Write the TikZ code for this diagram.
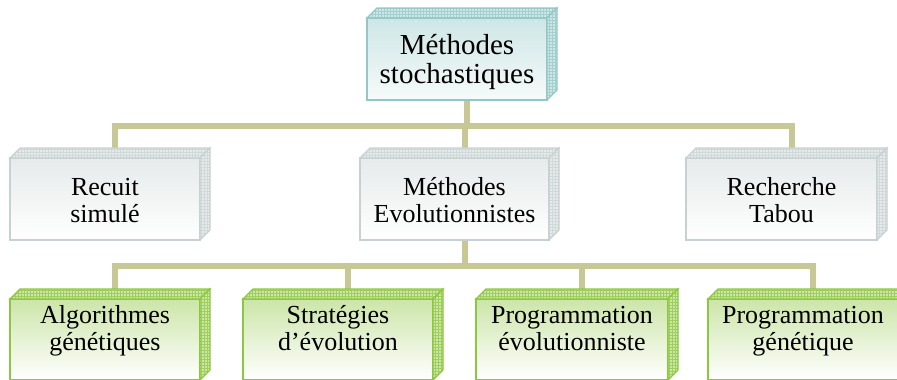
\documentclass[tikz,border=0pt]{standalone}
\usepackage{fontspec}
\setmainfont{Liberation Serif}
\usetikzlibrary{calc, backgrounds, patterns}
\definecolor{clink}{HTML}{C8C896}
\definecolor{cteal}{HTML}{93C7C7}
\definecolor{cgrey}{HTML}{C8D1D1}
\definecolor{cgreen}{HTML}{8DC63F}
\tikzset{
  every picture/.style={x=1pt, y=-1pt},
  box/.style={draw=#1, line width=1.6pt, outer sep=0pt, inner sep=0pt, align=center,
    anchor=north west, text height=37pt, text depth=45pt,
    font=\fontsize{26}{27}\selectfont},
  topbox/.style={box=cteal, top color=cteal!45, bottom color=cteal!8,
    text height=36pt, text depth=46pt, font=\fontsize{29}{29}\selectfont},
  midbox/.style={box=cgrey, top color=cgrey!45, bottom color=white},
  leafbox/.style={box=cgreen, top color=cgreen!45, bottom color=white,
    text height=24pt, text depth=57pt},
  face/.style={draw=#1, line width=1.2pt, preaction={fill=#1!45}, pattern=grid, pattern color=#1!85},
  link/.style={draw=clink, line width=6pt},
}
% top and side faces of a box
\newcommand{\boxfaces}[2]{%
  \path[face=#2] (#1.north west) -- ++(10,-10) -- ($(#1.north east)+(10,-10)$) -- (#1.north east) -- cycle;
  \path[face=#2] (#1.north east) -- ++(10,-10) -- ($(#1.south east)+(10,-10)$) -- (#1.south east) -- cycle;
}
\begin{document}
\begin{tikzpicture}
  \path[use as bounding box, clip] (0,0) rectangle (897,380);
  % root
  \node[topbox, text width=180pt] (t) at (367,18) {Méthodes\\stochastiques};
  % second row
  \node[midbox, text width=190pt] (rs) at (10,158) {Recuit\\simulé};
  \node[midbox, text width=189pt] (me) at (360,158) {Méthodes\\Evolutionnistes};
  \node[midbox, text width=191pt] (rt) at (686,158) {Recherche\\Tabou};
  % third row
  \node[leafbox, text width=190pt] (ag) at (10,299) {Algorithmes\\génétiques};
  \node[leafbox, text width=190pt] (se) at (243,299) {Stratégies\\d’évolution};
  \node[leafbox, text width=192pt] (pe) at (476,299) {Programmation\\évolutionniste};
  \node[leafbox, text width=190pt] (pg) at (708,299) {Programmation\\génétique};
  \boxfaces{t}{cteal}
  \foreach \n in {rs, me, rt} {\boxfaces{\n}{cgrey}}
  \foreach \n in {ag, se, pe, pg} {\boxfaces{\n}{cgreen}}
  % connectors
  \coordinate (b1) at ($(t.south)+(10,26)$);
  \coordinate (b2) at ($(me.south)+(10,26)$);
  \begin{scope}[on background layer]
    \foreach \n in {rs, me, rt}
      \draw[link] ($(\n.north)+(10,0)$) |- (b1) -- ($(t.south)+(10,0)$);
    \foreach \n in {ag, se, pe, pg}
      \draw[link] ($(\n.north)+(10,0)$) |- (b2) -- ($(me.south)+(10,0)$);
  \end{scope}
\end{tikzpicture}
\end{document}
